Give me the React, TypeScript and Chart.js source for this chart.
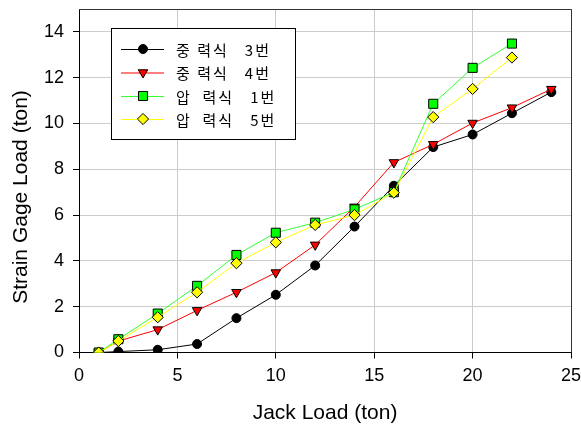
import React, { useEffect, useRef } from 'react';
import { Chart, registerables } from 'chart.js';
import { drawPoint } from 'chart.js/helpers';

Chart.register(...registerables);

// ---- data ----
const jackLoadLong = [1, 2, 4, 6, 8, 10, 12, 14, 16, 18, 20, 22, 24];
const jackLoadShort = [1, 2, 4, 6, 8, 10, 12, 14, 16, 18, 20, 22];
const gravity3 = [0, 0.04, 0.12, 0.37, 1.5, 2.52, 3.8, 5.5, 7.28, 8.97, 9.52, 10.45, 11.37];
const gravity4 = [0, 0.5, 1.0, 1.84, 2.63, 3.49, 4.7, 6.36, 8.3, 9.09, 10.02, 10.69, 11.5];
const pressure1 = [0, 0.58, 1.7, 2.91, 4.26, 5.23, 5.67, 6.25, 7.0, 10.86, 12.43, 13.49];
const pressure5 = [0, 0.5, 1.54, 2.63, 3.9, 4.81, 5.57, 6.0, 6.98, 10.28, 11.51, 12.88];
const seriesLabels = ['중 력식   3번', '중 력식   4번', '압  력식   1번', '압  력식   5번'];
const xTickValues = [0, 5, 10, 15, 20, 25];
const yTickValues = [0, 2, 4, 6, 8, 10, 12, 14];
const xTitle = 'Jack Load (ton)';
const yTitle = 'Strain Gage Load (ton)';

const FONT = "'Liberation Sans', Arial, sans-serif";

const toPoints = (xs: number[], ys: number[]) => xs.map((x, i) => ({ x, y: ys[i] }));

const styles = [
  { line: '#000000', fill: '#000000', pointStyle: 'circle', radius: 4.5, rotation: 0 },
  { line: '#ff0000', fill: '#ff0000', pointStyle: 'triangle', radius: 5.5, rotation: 180 },
  { line: '#33ff33', fill: '#00ff00', pointStyle: 'rect', radius: 6.4, rotation: 0 },
  { line: '#ffff00', fill: '#ffff00', pointStyle: 'rectRot', radius: 5.6, rotation: 0 },
];

const overlayPlugin = {
  id: 'overlay',
  afterDraw(chart: any) {
    const { ctx, chartArea } = chart;
    ctx.save();
    // top and right frame
    ctx.strokeStyle = '#333333';
    ctx.lineWidth = 1;
    ctx.beginPath();
    ctx.moveTo(chartArea.left, chartArea.top + 0.5);
    ctx.lineTo(chartArea.right + 0.5, chartArea.top + 0.5);
    ctx.lineTo(chartArea.right + 0.5, chartArea.bottom);
    ctx.stroke();

    // axis titles
    ctx.fillStyle = '#000';
    ctx.font = `21px ${FONT}`;
    ctx.textAlign = 'center';
    ctx.textBaseline = 'middle';
    ctx.fillText(xTitle, (chartArea.left + chartArea.right) / 2, 413);
    ctx.save();
    ctx.translate(21, 197);
    ctx.rotate(-Math.PI / 2);
    ctx.fillText(yTitle, 0, 0);
    ctx.restore();

    // legend
    const bx = 111.5, by = 28.5, bw = 184, bh = 111;
    ctx.fillStyle = '#ffffff';
    ctx.fillRect(bx, by, bw, bh);
    ctx.strokeStyle = '#000000';
    ctx.strokeRect(bx, by, bw, bh);
    const rows = [49, 72.5, 96, 119];
    seriesLabels.forEach((label, i) => {
      const s = styles[i];
      const y = rows[i];
      ctx.strokeStyle = s.line;
      ctx.lineWidth = 1;
      ctx.beginPath();
      ctx.moveTo(121, y + 0.5);
      ctx.lineTo(164, y + 0.5);
      ctx.stroke();
      ctx.fillStyle = s.fill;
      ctx.strokeStyle = '#000000';
      ctx.lineWidth = 1;
      drawPoint(ctx, { pointStyle: s.pointStyle, rotation: s.rotation, radius: s.radius, borderWidth: 1 } as any, 143, y);
      ctx.fillStyle = '#000000';
      ctx.font = `15px 'Noto Sans CJK KR', sans-serif`;
      (ctx as any).letterSpacing = '2px';
      ctx.textAlign = 'left';
      ctx.textBaseline = 'middle';
      ctx.fillText(label, 176, y + 1);
      (ctx as any).letterSpacing = '0px';
    });
    ctx.restore();
  },
};

export default function App() {
  const ref = useRef<HTMLCanvasElement>(null);

  useEffect(() => {
    if (!ref.current) return;
    const allX = [jackLoadLong, jackLoadLong, jackLoadShort, jackLoadShort];
    const allY = [gravity3, gravity4, pressure1, pressure5];
    const datasets = allY.map((ys, i) => ({
      label: seriesLabels[i],
      data: toPoints(allX[i], ys),
      borderColor: styles[i].line,
      backgroundColor: styles[i].fill,
      borderWidth: 1,
      pointStyle: styles[i].pointStyle,
      pointRotation: styles[i].rotation,
      pointRadius: styles[i].radius,
      pointBackgroundColor: styles[i].fill,
      pointBorderColor: '#000000',
      pointBorderWidth: 1,
      order: 4 - i,
      tension: 0,
    }));

    const chart = new Chart(ref.current, {
      type: 'line',
      data: { datasets } as any,
      options: {
        animation: false,
        responsive: false,
        devicePixelRatio: 1,
        layout: { padding: { left: 0, right: 10, top: 9, bottom: 0 } },
        plugins: { legend: { display: false }, tooltip: { enabled: false } },
        scales: {
          x: {
            type: 'linear',
            min: 0,
            max: 25,
            afterBuildTicks: (s: any) => { s.ticks = xTickValues.map((v) => ({ value: v })); },
            afterFit: (s: any) => { s.height = 75.5; s.paddingLeft = 0; s.paddingRight = 0; },
            grid: { color: '#cccccc', lineWidth: 1, drawTicks: true, tickLength: 6, tickColor: '#000000' },
            border: { color: '#000000', width: 1 },
            ticks: { color: '#000', font: { family: FONT, size: 18 }, padding: 7, maxRotation: 0 },
          },
          y: {
            type: 'linear',
            min: 0,
            max: 15,
            afterBuildTicks: (s: any) => { s.ticks = yTickValues.map((v) => ({ value: v })); },
            afterFit: (s: any) => { s.width = 79; s.paddingTop = 0; s.paddingBottom = 0; },
            grid: { color: '#cccccc', lineWidth: 1, drawTicks: true, tickLength: 6, tickColor: '#000000' },
            border: { color: '#000000', width: 1 },
            ticks: { color: '#000', font: { family: FONT, size: 18 }, padding: 9 },
          },
        },
      } as any,
      plugins: [overlayPlugin],
    });
    return () => chart.destroy();
  }, []);

  return (
    <div style={{ position: 'absolute', left: 0, top: 0, width: 581, height: 428, background: '#fff' }}>
      <canvas ref={ref} width={581} height={428} style={{ width: 581, height: 428, display: 'block' }} />
    </div>
  );
}
